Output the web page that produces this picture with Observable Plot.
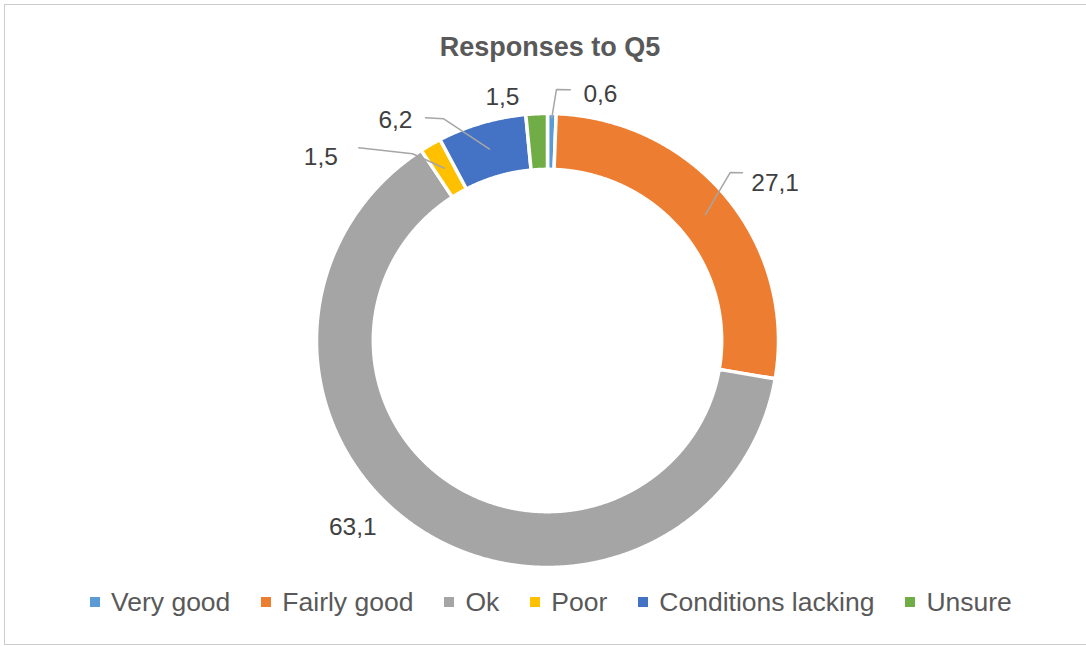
<!DOCTYPE html>
<html>
<head>
<meta charset="utf-8">
<script src="https://cdn.jsdelivr.net/npm/d3@7"></script>
<script src="https://cdn.jsdelivr.net/npm/@observablehq/plot@0.6"></script>
<style>
html,body{margin:0;padding:0;background:#fff;}
body{width:1086px;height:646px;position:relative;overflow:hidden;font-family:"Liberation Sans",Arial,sans-serif;}
#frame{position:absolute;left:4px;top:4px;width:1090px;height:641px;border:1px solid #cccccc;box-sizing:border-box;}
#title{position:absolute;left:0;top:32px;width:1100px;text-align:center;font-weight:bold;font-size:27px;line-height:30px;color:#595959;}
#chart{position:absolute;left:0;top:70px;}
#legend{position:absolute;left:90px;top:584px;}
.lg-swatches{font-family:"Liberation Sans",Arial,sans-serif !important;font-size:26.5px !important;color:#595959;margin:0 !important;}
.lg-swatches-wrap{min-height:36px !important;flex-wrap:nowrap !important;}
.lg-swatch{margin-right:31px !important;}
.lg-swatch > svg{margin-right:11px !important;}
</style>
</head>
<body>
<div id="frame"></div>
<div id="title">Responses to Q5</div>
<div id="chart"></div>
<div id="legend"></div>
<script>
// ---- data ----
const categories = ["Very good", "Fairly good", "Ok", "Poor", "Conditions lacking", "Unsure"];
const values = [0.6, 27.1, 63.1, 1.5, 6.2, 1.5];
const valueLabels = ["0,6", "27,1", "63,1", "1,5", "6,2", "1,5"];
const colors = ["#5B9BD5", "#ED7D31", "#A5A5A5", "#FFC000", "#4472C4", "#70AD47"];

// ---- layout (polar: degrees clockwise from top, radius in ring units) ----
const innerR = 0.754, outerR = 1.0;
const labelAngle = [11.9, 54.8, 225.7, 309.4, 325.9, 349.7];
const labelRadius = [1.111, 1.206, 1.178, 1.270, 1.174, 1.091];
const leaderStartR = [0.98, 0.88, null, 0.88, 0.88, null];
const leaderBend = [[2.0, 1.106], [46.9, 1.083], null, [324.6, 1.009], [335.3, 1.075], null];
const leaderEnd = [[5.1, 1.109], [48.8, 1.122], null, [316.1, 1.178], [331.7, 1.114], null];

const deg = Math.PI / 180;
const polar = (a, r) => ({x: r * Math.sin(a), y: r * Math.cos(a)});

const arcs = d3.pie().sort(null).value(d => d)(values);

const ring = [];
arcs.forEach((a, i) => {
  const n = Math.max(4, Math.ceil((a.endAngle - a.startAngle) / 0.004));
  for (let k = 0; k <= n; k++) {
    const t = a.startAngle + (a.endAngle - a.startAngle) * k / n;
    ring.push({cat: categories[i], ...polar(t, outerR)});
  }
  for (let k = n; k >= 0; k--) {
    const t = a.startAngle + (a.endAngle - a.startAngle) * k / n;
    ring.push({cat: categories[i], ...polar(t, innerR)});
  }
});

const leaders = [];
arcs.forEach((a, i) => {
  if (!leaderBend[i]) return;
  const mid = (a.startAngle + a.endAngle) / 2;
  leaders.push({cat: categories[i], ...polar(mid, leaderStartR[i])});
  leaders.push({cat: categories[i], ...polar(leaderBend[i][0] * deg, leaderBend[i][1])});
  leaders.push({cat: categories[i], ...polar(leaderEnd[i][0] * deg, leaderEnd[i][1])});
});

const labels = categories.map((c, i) => ({cat: c, text: valueLabels[i], ...polar(labelAngle[i] * deg, labelRadius[i])}));

const chart = Plot.plot({
  width: 1086,
  height: 510,
  margin: 0,
  x: {domain: [-1, 1], range: [316, 778], axis: null},
  y: {domain: [-1, 1], range: [497, 43], axis: null},
  color: {domain: categories, range: colors},
  style: {fontFamily: "'Liberation Sans', Arial, sans-serif", background: "transparent", overflow: "visible"},
  marks: [
    Plot.line(ring, {x: "x", y: "y", z: "cat", fill: "cat", stroke: "white", strokeWidth: 3.5, curve: "linear-closed"}),
    Plot.line(leaders, {x: "x", y: "y", z: "cat", stroke: "#a6a6a6", strokeWidth: 1.5}),
    Plot.text(labels, {x: "x", y: "y", text: "text", fontSize: 24.5, fill: "#404040", textAnchor: "middle", lineAnchor: "middle"})
  ]
});
document.getElementById("chart").appendChild(chart);

const legend = Plot.legend({
  color: {type: "ordinal", domain: categories, range: colors},
  legend: "swatches",
  swatchSize: 10,
  className: "lg"
});
document.getElementById("legend").appendChild(legend);
</script>
</body>
</html>
